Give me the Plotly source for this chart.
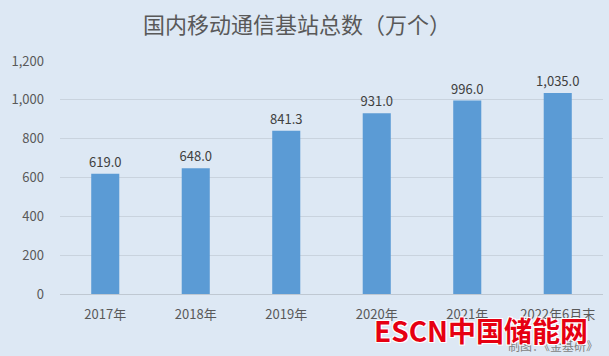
import plotly.graph_objects as go

categories = ["2017年", "2018年", "2019年", "2020年", "2021年", "2022年6月末"]
values = [619.0, 648.0, 841.3, 931.0, 996.0, 1035.0]
y_ticks = [0, 200, 400, 600, 800, 1000, 1200]
y_tick_labels = ["0", "200", "400", "600", "800", "1,000", "1,200"]

bg = "#dde8f4"
font_fam = "Microsoft YaHei, Noto Sans CJK SC, sans-serif"

fig = go.Figure(go.Bar(
    x=categories, y=values,
    marker=dict(color="#5b9bd5", line=dict(width=0)),
    width=0.31,
    text=[f"{v:,.1f}" for v in values],
    textposition="outside",
    constraintext="none",
    textfont=dict(size=13, color="#404040", family=font_fam),
    cliponaxis=False,
))

fig.update_layout(
    width=609, height=356,
    paper_bgcolor=bg, plot_bgcolor=bg,
    margin=dict(l=60, r=6, t=61, b=62, autoexpand=False),
    showlegend=False,
    title=dict(text="国内移动通信基站总数（万个）", x=297 / 609, xanchor="center",
               xref="container",
               y=1 - 25 / 356, yanchor="middle", yref="container",
               font=dict(size=22, color="#595959", family=font_fam)),
    font=dict(family=font_fam, color="#595959", size=13),
    uniformtext=dict(minsize=13, mode="show"),
    xaxis=dict(showgrid=False, showline=True, linecolor="#bfc8d2", linewidth=1,
               ticks="", automargin=False, ticklabelstandoff=8,
               tickfont=dict(size=13, color="#595959")),
    yaxis=dict(range=[0, 1200], tickvals=y_ticks, ticktext=y_tick_labels,
               showgrid=True, gridcolor="#c9d3de", gridwidth=1, zeroline=False,
               showline=False, ticks="", ticklabelstandoff=15, automargin=False,
               tickfont=dict(size=13, color="#595959")),
)

fig.add_annotation(text="制图：《金基研》", xref="paper", yref="paper",
                   x=0.994, y=-0.223, xanchor="right", yanchor="middle", showarrow=False,
                   font=dict(size=12, color="#7f7f7f", family=font_fam))
fig.add_annotation(text="<b>ESCN中国储能网</b>", xref="paper", yref="paper",
                   x=0.976, y=-0.155, xanchor="right", yanchor="middle", showarrow=False,
                   font=dict(size=28, color="#e60012", family=font_fam,
                             shadow="1px 1px 0 #fff, -1px -1px 0 #fff, 1px -1px 0 #fff, -1px 1px 0 #fff"))

fig.write_html("out.html", config={"displayModeBar": False},
               post_script="document.body.style.margin='0';document.body.style.overflow='hidden';")
